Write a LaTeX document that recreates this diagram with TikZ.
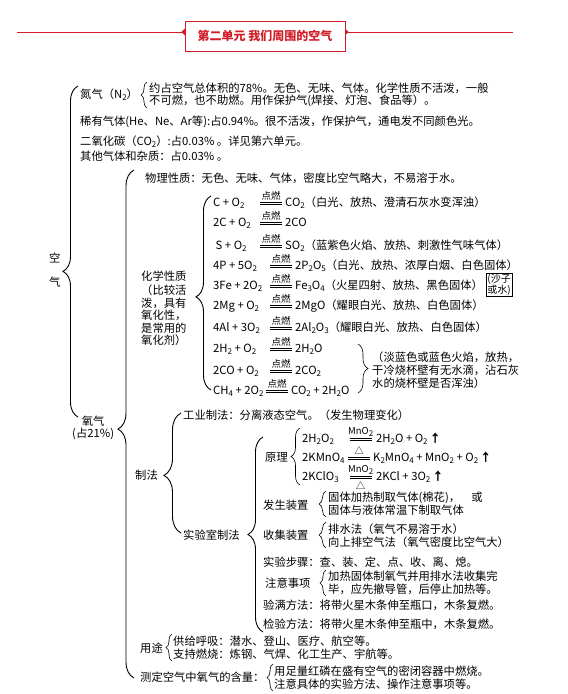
\documentclass[tikz,border=0pt]{standalone}
\usepackage{amsmath}
\usepackage{fontspec}
\setmainfont{Noto Sans CJK SC}
\usetikzlibrary{decorations.pathreplacing, shapes.geometric, backgrounds}

\definecolor{titred}{RGB}{210,30,40}
\newcommand{\xb}[1]{\raisebox{-0.35ex}{\fontsize{8}{8}\selectfont #1}}
\newcommand{\cnd}[2]{\ensuremath{\mathrel{\mathop{\vcenter{\offinterlineskip
  \hbox{\rule{22pt}{0.5pt}}\kern1.6pt\hbox{\rule{22pt}{0.5pt}}}}\limits
  ^{\hbox{\fontsize{9.5}{10}\selectfont #1}}_{\hbox{\fontsize{9.5}{10}\selectfont #2}}}}}
\newcommand{\rxn}[5][57pt]{\makebox[#1][l]{#2}\cnd{#3}{#4}\hspace{3pt}#5}
\newcommand{\gasup}{\,{\bfseries ↑}}

\begin{document}
\begin{tikzpicture}[x=1pt, y=-1pt,
    font=\fontsize{11.3}{13}\selectfont,
    txt/.style={anchor=base west, inner sep=0pt},
    blk/.style={anchor=west, inner sep=0pt, align=left},
    eqn/.style={txt},
    brc/.style 2 args={decorate, decoration={brace, amplitude=#1, aspect=#2}, line width=0.9pt},
    sbrc/.style={decorate, decoration={brace, amplitude=#1}, line width=0.6pt},
    ttl/.style={draw=titred, fill=white, text=titred, font=\fontsize{12}{14}\selectfont\bfseries,
                minimum width=160pt, minimum height=30pt, inner sep=0pt},
    dmd/.style={diamond, fill=titred, inner sep=0pt, minimum size=7pt},
  ]
  \useasboundingbox (0,0) rectangle (568,694);

  % ---- title
  \node[ttl] (title) at (265,36) {第二单元 我们周围的空气};
  \coordinate (tl) at (17,32);
  \coordinate (tr) at (513,32);
  \begin{scope}[on background layer]
    \fill[white] (0,0) rectangle (568,694);
    \draw[titred, line width=0.8pt] (tl) -- (tr);
    \node[dmd] at (title.west |- tl) {};
    \node[dmd] at (title.east |- tl) {};
  \end{scope}

  % ---- air
  \node[blk, align=center] (air) at (49,270) {空\\[11pt]气};
  \draw[brc={15pt}{0.44}] (78,417) -- (78,86);

  \node[txt] (n2) at (80,98) {氮气（N\xb{2}）};
  \draw[sbrc=6pt] (147,108) -- (147,82);
  \node[blk, font=\fontsize{11.3}{12}\selectfont] (n2info) at (149,95)
    {约占空气总体积的78\%。无色、无味、气体。化学性质不活泼，一般\\不可燃，也不助燃。用作保护气(焊接、灯泡、食品等）。};
  \node[txt] (rare) at (80,125) {稀有气体(He、Ne、Ar等):占0.94\%。很不活泼，作保护气，通电发不同颜色光。};
  \node[txt] (co2) at (80,145) {二氧化碳（CO\xb{2}）:占0.03\% 。详见第六单元。};
  \node[txt] (other) at (80,160) {其他气体和杂质：占0.03\% 。};

  % ---- oxygen
  \node[blk, align=center, font=\fontsize{11.3}{12}\selectfont] (o2) at (72,428) {氧气\\(占21\%)};
  \draw[brc={16pt}{0.49}] (134,678) -- (134,170);

  \node[txt] (phys) at (145,182) {物理性质：无色、无味、气体，密度比空气略大，不易溶于水。};

  \node[blk, font=\fontsize{11.3}{12.5}\selectfont] (chem) at (141,308)
    {化学性质\\[2pt]（比较活\\泼，具有\\氧化性，\\是常用的\\氧化剂）};
  \draw[brc={15pt}{0.48}] (211,390) -- (211,196);

  \node[eqn] (r1) at (213,206) {\rxn[47pt]{C + O\xb{2}}{点燃}{}{CO\xb{2}（白光、放热、澄清石灰水变浑浊）}};
  \node[eqn] (r2) at (213,226) {\rxn[47pt]{2C + O\xb{2}}{点燃}{}{2CO}};
  \node[eqn] (r3) at (213,249) {\rxn[47pt]{\ S + O\xb{2}}{点燃}{}{SO\xb{2}（蓝紫色火焰、放热、刺激性气味气体）}};
  \node[eqn] (r4) at (213,269) {\rxn{4P + 5O\xb{2}}{点燃}{}{2P\xb{2}O\xb{5}（白光、放热、浓厚白烟、白色固体）}};
  \node[eqn] (r5) at (213,289) {\rxn{3Fe + 2O\xb{2}}{点燃}{}{Fe\xb{3}O\xb{4}（火星四射、放热、黑色固体）}};
  \node[draw, inner sep=1pt, align=left, anchor=west, font=\fontsize{10}{10.5}\selectfont]
    (sand) at ([xshift=3pt, yshift=4pt]r5.base east) {(沙子\\或水)};
  \node[eqn] (r6) at (213,309) {\rxn{2Mg + O\xb{2}}{点燃}{}{2MgO（耀眼白光、放热、白色固体）}};
  \node[eqn] (r7) at (213,331) {\rxn{4Al + 3O\xb{2}}{点燃}{}{2Al\xb{2}O\xb{3}（耀眼白光、放热、白色固体）}};
  \node[eqn] (r8) at (213,352) {\rxn{2H\xb{2} + O\xb{2}}{点燃}{}{2H\xb{2}O}};
  \node[eqn] (r9) at (213,374) {\rxn{2CO + O\xb{2}}{点燃}{}{2CO\xb{2}}};
  \node[eqn] (r10) at (213,394) {\rxn[53pt]{CH\xb{4} + 2O\xb{2}}{点燃}{}{CO\xb{2} + 2H\xb{2}O}};
  \draw[sbrc=10pt] (358,344) -- (358,393);
  \node[blk] (flame) at (372,370)
    {（淡蓝色或蓝色火焰，放热，\\干冷烧杯壁有无水滴，沾石灰\\水的烧杯壁是否浑浊）};

  % ---- preparation
  \node[txt] (prep) at (135,479) {制法};
  \draw[brc={17pt}{0.48}] (181,533) -- (181,413);
  \node[txt] (ind) at (183,419) {工业制法：分离液态空气。（发生物理变化）};
  \node[txt] (lab) at (183,539) {实验室制法};
  \draw[brc={15pt}{0.5}] (263,632) -- (263,437);

  \node[txt] (prin) at (265,461) {原理};
  \draw[sbrc=9pt] (300,485) -- (300,428);
  \node[eqn] (e1) at (302,442) {\rxn[46pt]{2H\xb{2}O\xb{2}}{MnO\xb{2}}{}{2H\xb{2}O + O\xb{2}\gasup}};
  \node[eqn] (e2) at (302,461) {\rxn[46pt]{2KMnO\xb{4}}{△}{}{K\xb{2}MnO\xb{4} + MnO\xb{2} + O\xb{2}\gasup}};
  \node[eqn] (e3) at (302,480) {\rxn[46pt]{2KClO\xb{3}}{MnO\xb{2}}{△}{2KCl + 3O\xb{2}\gasup}};

  \node[txt] (gen) at (263,509) {发生装置};
  \draw[sbrc=7pt] (326,517) -- (326,491);
  \node[blk] (genx) at (328,504) {固体加热制取气体(棉花)，\quad 或\\固体与液体常温下制取气体};

  \node[txt] (coll) at (263,539) {收集装置};
  \draw[sbrc=7pt] (326,548) -- (326,522);
  \node[blk] (collx) at (328,536) {排水法（氧气不易溶于水）\\向上排空气法（氧气密度比空气大）};

  \node[txt] (steps) at (263,566) {实验步骤：查、装、定、点、收、离、熄。};
  \node[txt] (note) at (265,587) {注意事项};
  \draw[sbrc=6pt] (326,596) -- (326,570);
  \node[blk] (notex) at (328,583) {加热固体制氧气并用排水法收集完\\毕，应先撤导管，后停止加热等。};
  \node[txt] (full) at (263,609) {验满方法：将带火星木条伸至瓶口，木条复燃。};
  \node[txt] (chk) at (263,628) {检验方法：将带火星木条伸至瓶中，木条复燃。};

  % ---- uses
  \node[txt] (use) at (140,652) {用途};
  \draw[sbrc=6pt] (172,661) -- (172,634);
  \node[blk] (usex) at (173,648) {供给呼吸：潜水、登山、医疗、航空等。\\支持燃烧：炼钢、气焊、化工生产、宇航等。};
  \node[txt] (meas) at (140,681) {测定空气中氧气的含量：};
  \draw[sbrc=6pt] (273,691) -- (273,664);
  \node[blk] (measx) at (274,678) {用足量红磷在盛有空气的密闭容器中燃烧。\\注意具体的实验方法、操作注意事项等。};
\end{tikzpicture}
\end{document}
